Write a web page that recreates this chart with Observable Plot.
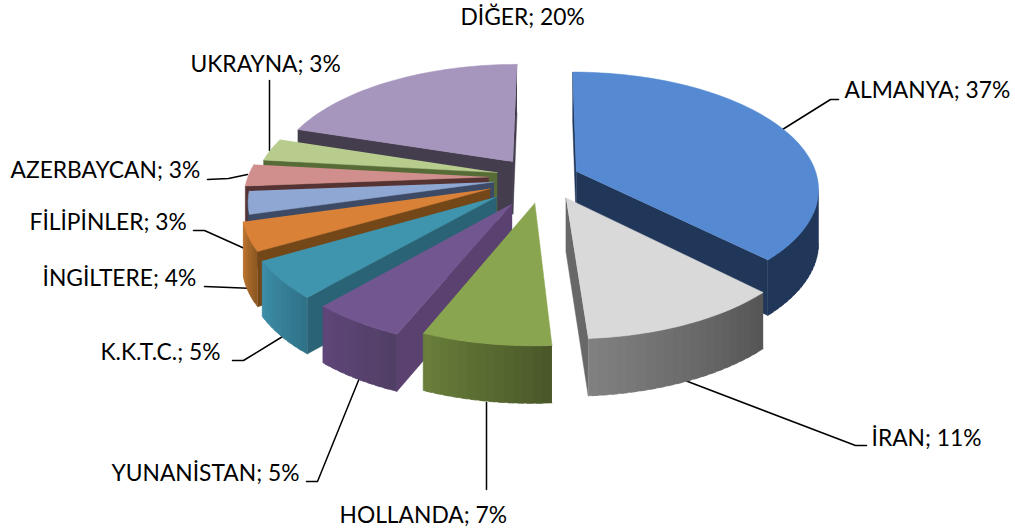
<!DOCTYPE html>
<html><head><meta charset="utf-8">
<style>html,body{margin:0;padding:0;background:#fff}svg{display:block}</style>
<script src="https://cdn.jsdelivr.net/npm/d3@7"></script>
<script src="https://cdn.jsdelivr.net/npm/@observablehq/plot@0.6"></script>
</head><body><div id="chart"></div>
<script>
const categories = ["ALMANYA","İRAN","HOLLANDA","YUNANİSTAN","K.K.T.C.","İNGİLTERE","FİLİPİNLER","AZERBAYCAN","UKRAYNA","DİĞER"];
const percentLabels = [37,11,7,5,5,4,3,3,3,20];
const shares = [37.4,11.5,7.3,5.3,5.2,3.9,3.1,3.0,3.1,20.1];
const explode = [.135,.19,.22,.26,.26,.25,.22,.24,.21,.20];
const explodeTurn = [0,0,3,0,0,0,0,0,0,-9];
const topColors = ["#558ad3","#d9d9d9","#8aa54f","#725690","#3f95ae","#d98136","#8ea8d3","#d08f8d","#b7cc8d","#a695bc"];
const sideFrom = ["#21375a","#565656","#4a5829","#523f66","#2f7388","#8f5a22","#3c4a66","#553333","#576b37","#433d4d"];
const sideTo = ["#21375a","#808080","#687e3a","#5e4678","#3d8da8","#bd7630","#3c4a66","#553333","#576b37","#433d4d"];
const cutColors = ["#21375a","#686868","#4a5829","#5a4170","#2a6375","#734717","#3c4a66","#553333","#576b37","#433d4d"];
const drawOrder = [9,8,7,6,5,4,3,2,0,1];

const labelX = [844,871,339,111,100,42,29,10,190,460];
const labelY = [90,438,515,473,352,278,222,170,64,17];
const leaderX = [[782,830,838],[682,855,866],[486,486],[360,317,306],[287,243,232],[254,204],[253,204,193],[247,228,207],[269,269],[]];
const leaderY = [[129,99,99],[379,445,445],[402,489],[375,481,481],[333,360,360],[288,286],[252,230,230],[174,178,179],[150,80],[]];

// projection of the tilted pie
const view = {cx:546, cy:177, R:241, Ry:115, a:.14, h:53, hSlope:.07};
function project(X, Y, bottom) {
  const s = 1 / (1 - view.a * Y);
  return [view.cx + view.R * X * s, view.cy + view.Ry * Y * s + (bottom ? view.h * (1 + view.hSlope * Y) : 0)];
}
const total = d3.sum(shares);
const rad = d => d * Math.PI / 180;
const polys = [];
let id = 0;
function add(pts, color) { id++; for (const [x,y] of pts) polys.push({x,y,id,color}); }
function area(p) { let a=0; p.forEach((q,i)=>{const r=p[(i+1)%p.length]; a+=q[0]*r[1]-r[0]*q[1];}); return a; }

let acc = 0;
const geom = shares.map((v,i) => { const t0 = acc/total*360; acc += v; return {i, t0, t1: acc/total*360}; });
for (const k of drawOrder) {
  const {t0,t1} = geom[k];
  const mid = rad((t0+t1)/2 + explodeTurn[k]), e = explode[k];
  const ox = e*Math.sin(mid), oy = -e*Math.cos(mid);
  const rim = t => [ox+Math.sin(rad(t)), oy-Math.cos(rad(t))];
  const apex = [ox,oy];
  const n = Math.max(2, Math.ceil((t1-t0)/2));
  const ts = d3.range(n+1).map(j => t0+(t1-t0)*j/n);
  const face = (p,q,color) => {
    const quad = [project(...p,false),project(...q,false),project(...q,true),project(...p,true)];
    if (area(quad) < 0) add(quad,color);
  };
  face(apex,rim(t0),cutColors[k]);
  face(rim(t1),apex,cutColors[k]);
  const mix = d3.interpolateRgb(sideFrom[k],sideTo[k]);
  for (let j=0;j<n;j++) face(rim(ts[j]),rim(Math.min(t1,ts[j+1]+1.2)),mix(n>1?j/(n-1):0));
  add([project(...apex,false),...ts.map(t=>project(...rim(t),false))],topColors[k]);
}

const labels = categories.map((c,i)=>({text:`${c}; ${percentLabels[i]}%`,x:labelX[i],y:labelY[i]}));
const leaders = leaderX.flatMap((xs,i)=>xs.map((x,j)=>({x,y:leaderY[i][j],i})));

const plot = Plot.plot({
  width:1015,height:531,margin:0,
  x:{domain:[0,1015],range:[0,1015],axis:null},
  y:{domain:[0,531],range:[0,531],axis:null},
  color:{type:"identity"},
  marks:[
    Plot.line(leaders,{x:"x",y:"y",z:"i",stroke:"#000",strokeWidth:1.5,strokeLinejoin:"round"}),
    Plot.line(polys,{x:"x",y:"y",z:"id",fill:"color",stroke:"color",strokeWidth:.5}),
    Plot.text(labels,{x:"x",y:"y",text:"text",textAnchor:"start",fontSize:22.8,fontFamily:"Lato",fill:"#000"})
  ]
});
plot.style.fontVariantNumeric = "tabular-nums";
document.getElementById("chart").append(plot);
</script></body></html>
